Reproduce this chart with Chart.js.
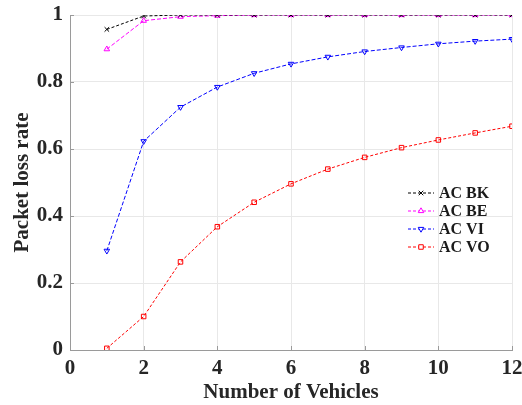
<!DOCTYPE html>
<html>
<head>
<meta charset="utf-8">
<script src="https://cdn.jsdelivr.net/npm/chart.js@4"></script>
<style>
html,body{margin:0;padding:0;background:#fff;}
#wrap{width:522px;height:405px;position:relative;}
</style>
</head>
<body>
<div id="wrap"><canvas id="c" width="522" height="405"></canvas></div>
<script>
const vehicles = [1,2,3,4,5,6,7,8,9,10,11,12];
const acBK = [0.957,0.997,1,1,1,1,1,1,1,1,1,1];
const acBE = [0.898,0.983,0.995,0.998,1,1,1,1,1,1,1,1];
const acVI = [0.296,0.623,0.725,0.785,0.826,0.854,0.875,0.891,0.903,0.914,0.922,0.928];
const acVO = [0.005,0.100,0.263,0.368,0.441,0.496,0.540,0.575,0.604,0.627,0.648,0.668];
const seriesNames = ['AC BK','AC BE','AC VI','AC VO'];
const xTicks = [0,2,4,6,8,10,12];
const yTicks = [0,0.2,0.4,0.6,0.8,1];

const FONT = '"Liberation Serif","Times New Roman",serif';
const pts = arr => vehicles.map((v,i)=>({x:v,y:arr[i]}));

const legendPlugin = {
  id:'customLegend',
  afterDraw(chart){
    const ctx = chart.ctx, ca = chart.chartArea;
    const x0 = ca.left + 338, y0 = ca.top + 178, gap = 18;
    ctx.save();
    chart.data.datasets.forEach((ds,i)=>{
      const y = y0 + i*gap;
      ctx.strokeStyle = ds.borderColor;
      ctx.lineWidth = 1;
      ctx.setLineDash([3,2]);
      ctx.beginPath(); ctx.moveTo(x0,y); ctx.lineTo(x0+26,y); ctx.stroke();
      ctx.setLineDash([]);
      ctx.fillStyle = '#ffffff';
      ctx.strokeStyle = ds.borderColor;
      Chart.helpers.drawPoint(ctx,{pointStyle:ds.pointStyle,rotation:ds.pointRotation||0,radius:ds.pointRadius,borderWidth:1},x0+13,y);
      ctx.fillStyle = '#1a1a1a';
      ctx.font = 'bold 16px ' + FONT;
      ctx.textBaseline = 'middle';
      ctx.textAlign = 'left';
      ctx.fillText(ds.label, x0+31, y+1);
    });
    ctx.restore();
  }
};

// inward tick marks like MATLAB
const tickPlugin = {
  id:'inTicks',
  afterDatasetsDraw(chart){
    const ctx = chart.ctx, ca = chart.chartArea, xs = chart.scales.x, ys = chart.scales.y;
    ctx.save();
    ctx.strokeStyle = '#9a9a9a'; ctx.lineWidth = 1;
    ctx.beginPath();
    xTicks.forEach(t=>{const px = Math.round(xs.getPixelForValue(t))+0.5; ctx.moveTo(px,ca.bottom); ctx.lineTo(px,ca.bottom-4);});
    yTicks.forEach(t=>{const py = Math.round(ys.getPixelForValue(t))+0.5; ctx.moveTo(ca.left,py); ctx.lineTo(ca.left+4,py);});
    ctx.stroke();
    ctx.restore();
  }
};

const mk = (label,data,color,style,rot,dash) => ({
  label, data:pts(data), borderColor:color, backgroundColor:'rgba(0,0,0,0)',
  pointStyle:style, pointRotation:rot||0, pointRadius:3.2, pointBorderWidth:1,
  pointBorderColor:color, pointBackgroundColor:'rgba(255,255,255,0)',
  borderWidth:1, borderDash:dash, tension:0, fill:false
});

new Chart(document.getElementById('c'),{
  type:'line',
  data:{datasets:[
    mk(seriesNames[0],acBK,'#000000','crossRot',0,[3,2]),
    mk(seriesNames[1],acBE,'#ff00ff','triangle',0,[4,2]),
    mk(seriesNames[2],acVI,'#0000ff','triangle',180,[4,2]),
    mk(seriesNames[3],acVO,'#ff0000','rect',0,[3,2])
  ]},
  options:{
    responsive:false, animation:false,
    layout:{padding:{top:15,right:10,left:0,bottom:0}},
    plugins:{legend:{display:false},tooltip:{enabled:false}},
    scales:{
      x:{type:'linear',min:0,max:12,
        afterBuildTicks(s){s.ticks = xTicks.map(v=>({value:v}));},
        afterFit(s){s.height = 55; s.paddingRight = 0; s.paddingLeft = 0;},
        grid:{color:'#e8e8e8',drawTicks:false,lineWidth:1},
        border:{color:'#9a9a9a',width:1},
        ticks:{color:'#262626',padding:6,font:{family:FONT,weight:'bold',size:21},maxRotation:0},
        title:{display:true,text:'Number of Vehicles',color:'#262626',padding:{top:0,bottom:0},font:{family:FONT,weight:'bold',size:21}}
      },
      y:{type:'linear',min:0,max:1,
        afterBuildTicks(s){s.ticks = yTicks.map(v=>({value:v}));},
        afterFit(s){s.width = 70; s.paddingTop = 0; s.paddingBottom = 0;},
        grid:{color:'#e8e8e8',drawTicks:false,lineWidth:1},
        border:{color:'#9a9a9a',width:1},
        ticks:{color:'#262626',padding:7,font:{family:FONT,weight:'bold',size:21},callback:v=>String(Math.round(v*10)/10)},
        title:{display:true,text:'Packet loss rate',color:'#262626',padding:{top:10,bottom:0},font:{family:FONT,weight:'bold',size:21}}
      }
    }
  },
  plugins:[legendPlugin,tickPlugin]
});
</script>
</body>
</html>
